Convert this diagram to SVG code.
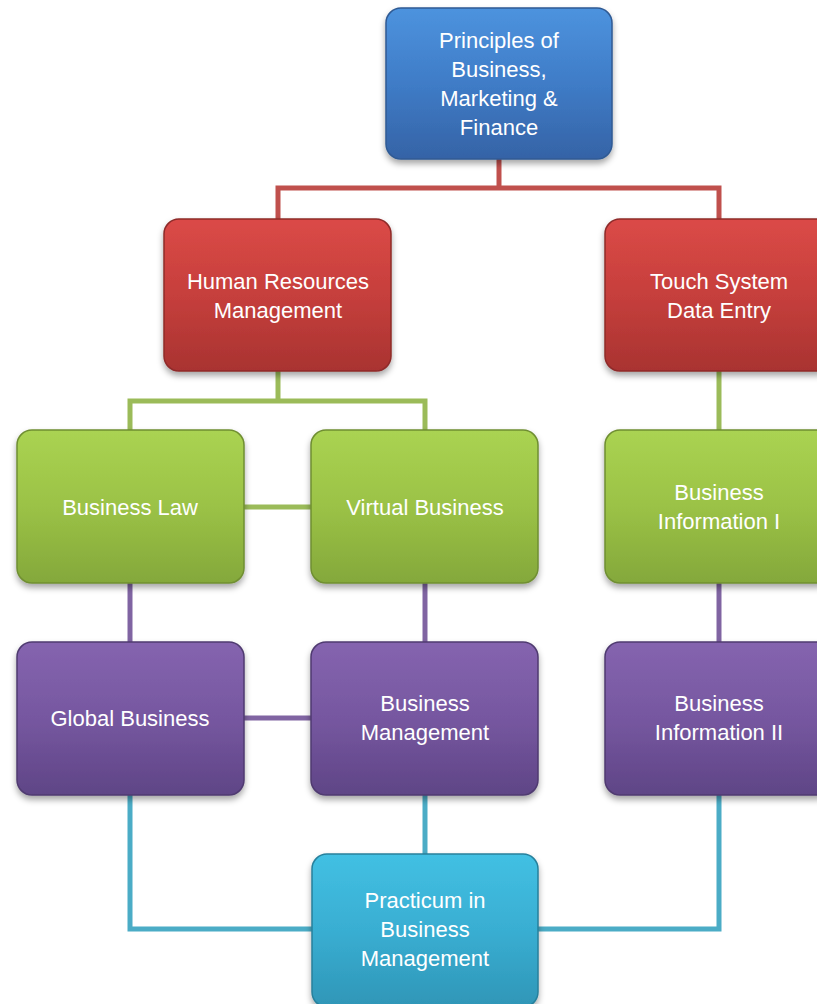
<svg xmlns="http://www.w3.org/2000/svg" width="817" height="1004" viewBox="0 0 817 1004">
<defs>
<linearGradient id="gBlue" x1="0" y1="0" x2="0" y2="1"><stop offset="0" stop-color="#4d93de"/><stop offset="0.5" stop-color="#3f7cc7"/><stop offset="1" stop-color="#3563a6"/></linearGradient>
<linearGradient id="gRed" x1="0" y1="0" x2="0" y2="1"><stop offset="0" stop-color="#db4a47"/><stop offset="0.5" stop-color="#c63f3c"/><stop offset="1" stop-color="#a93331"/></linearGradient>
<linearGradient id="gGreen" x1="0" y1="0" x2="0" y2="1"><stop offset="0" stop-color="#aad352"/><stop offset="0.5" stop-color="#9bc246"/><stop offset="1" stop-color="#84a83b"/></linearGradient>
<linearGradient id="gPurple" x1="0" y1="0" x2="0" y2="1"><stop offset="0" stop-color="#8564af"/><stop offset="0.5" stop-color="#7657a0"/><stop offset="1" stop-color="#5f4586"/></linearGradient>
<linearGradient id="gCyan" x1="0" y1="0" x2="0" y2="1"><stop offset="0" stop-color="#42c0e3"/><stop offset="0.5" stop-color="#39aed2"/><stop offset="1" stop-color="#2f96b7"/></linearGradient>
<filter id="sh" x="-10%" y="-10%" width="125%" height="130%"><feDropShadow dx="0" dy="4" stdDeviation="3" flood-color="#000" flood-opacity="0.35"/></filter>
</defs>
<style>
.box{filter:url(#sh);stroke-width:1.5}
.t{font-family:"Liberation Sans",Arial,sans-serif;font-size:22px;fill:#ffffff;text-anchor:middle}
.c{fill:none;stroke-width:5;stroke-linejoin:miter}
</style>
<g id="connectors">
<polyline class="c" stroke="#c0504d" points="499,159 499,188"/>
<polyline class="c" stroke="#c0504d" points="278,219 278,188 719,188 719,219"/>
<polyline class="c" stroke="#9bbb59" points="278,371 278,401"/>
<polyline class="c" stroke="#9bbb59" points="130,430 130,401 425,401 425,430"/>
<line class="c" stroke="#9bbb59" x1="244" y1="507" x2="311" y2="507"/>
<line class="c" stroke="#9bbb59" x1="719" y1="371" x2="719" y2="430"/>
<line class="c" stroke="#8064a2" x1="130" y1="583" x2="130" y2="642"/>
<line class="c" stroke="#8064a2" x1="425" y1="583" x2="425" y2="642"/>
<line class="c" stroke="#8064a2" x1="719" y1="583" x2="719" y2="642"/>
<line class="c" stroke="#8064a2" x1="244" y1="718" x2="311" y2="718"/>
<polyline class="c" stroke="#4bacc6" points="130,795 130,929 312,929"/>
<line class="c" stroke="#4bacc6" x1="425" y1="795" x2="425" y2="854"/>
<polyline class="c" stroke="#4bacc6" points="719,795 719,929 538,929"/>
</g>
<g id="n-principles"><rect class="box" x="386" y="8" width="226" height="151" rx="15" fill="url(#gBlue)" stroke="#2f5a94"/>
<text class="t" x="499" y="48">Principles of</text><text class="t" x="499" y="77">Business,</text><text class="t" x="499" y="106">Marketing &amp;</text><text class="t" x="499" y="135">Finance</text></g>
<g id="n-hr"><rect class="box" x="164" y="219" width="227" height="152" rx="15" fill="url(#gRed)" stroke="#8e2b29"/>
<text class="t" x="278" y="289">Human Resources</text><text class="t" x="278" y="318">Management</text></g>
<g id="n-touch"><rect class="box" x="605" y="219" width="227" height="152" rx="15" fill="url(#gRed)" stroke="#8e2b29"/>
<text class="t" x="719" y="289">Touch System</text><text class="t" x="719" y="318">Data Entry</text></g>
<g id="n-law"><rect class="box" x="17" y="430" width="227" height="153" rx="15" fill="url(#gGreen)" stroke="#6f8e32"/>
<text class="t" x="130" y="515">Business Law</text></g>
<g id="n-virtual"><rect class="box" x="311" y="430" width="227" height="153" rx="15" fill="url(#gGreen)" stroke="#6f8e32"/>
<text class="t" x="425" y="515">Virtual Business</text></g>
<g id="n-info1"><rect class="box" x="605" y="430" width="227" height="153" rx="15" fill="url(#gGreen)" stroke="#6f8e32"/>
<text class="t" x="719" y="500">Business</text><text class="t" x="719" y="529">Information I</text></g>
<g id="n-global"><rect class="box" x="17" y="642" width="227" height="153" rx="15" fill="url(#gPurple)" stroke="#4f3a70"/>
<text class="t" x="130" y="726">Global Business</text></g>
<g id="n-mgmt"><rect class="box" x="311" y="642" width="227" height="153" rx="15" fill="url(#gPurple)" stroke="#4f3a70"/>
<text class="t" x="425" y="711">Business</text><text class="t" x="425" y="740">Management</text></g>
<g id="n-info2"><rect class="box" x="605" y="642" width="227" height="153" rx="15" fill="url(#gPurple)" stroke="#4f3a70"/>
<text class="t" x="719" y="711">Business</text><text class="t" x="719" y="740">Information II</text></g>
<g id="n-practicum"><rect class="box" x="312" y="854" width="226" height="153" rx="15" fill="url(#gCyan)" stroke="#27809c"/>
<text class="t" x="425" y="908">Practicum in</text><text class="t" x="425" y="937">Business</text><text class="t" x="425" y="966">Management</text></g>
</svg>
